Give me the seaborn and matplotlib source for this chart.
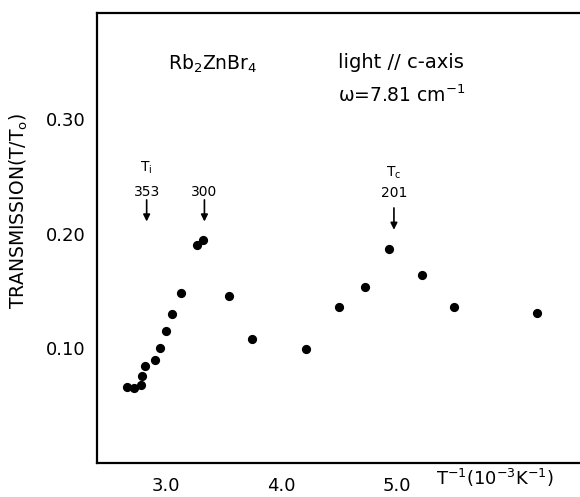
import matplotlib
matplotlib.use("Agg")
import matplotlib.pyplot as plt
import seaborn as sns
import pandas as pd

inv_T = [2.659, 2.725, 2.783, 2.794, 2.815, 2.905, 2.948, 3.000, 3.055, 3.130,
         3.271, 3.323, 3.549, 3.745, 4.213, 4.499, 4.722, 4.932, 5.216, 5.493, 6.213]
transmission = [0.0662, 0.0656, 0.0682, 0.0758, 0.0844, 0.0900, 0.1000, 0.1152, 0.1302, 0.1484,
                0.1900, 0.1946, 0.1453, 0.1078, 0.0997, 0.1358, 0.1537, 0.1866, 0.1637, 0.1358, 0.1312]

x_ticks = [3.0, 4.0, 5.0, 6.0]
x_tick_labels = ["3.0", "4.0", "5.0", ""]
y_ticks = [0.10, 0.20, 0.30]
y_tick_labels = ["0.10", "0.20", "0.30"]

markers_T = [353, 300, 201]
marker_names = ["T$_\\mathrm{i}$", "", "T$_\\mathrm{c}$"]

df = pd.DataFrame({"x": inv_T, "y": transmission})

sns.set_style("white")
plt.rcParams["font.family"] = ["DejaVu Sans"]
plt.rcParams["mathtext.fontset"] = "dejavusans"

fig = plt.figure(figsize=(5.8, 4.97), dpi=100)
ax = fig.add_axes([0.1667, 0.0678, 0.8333, 0.906])

sns.scatterplot(data=df, x="x", y="y", ax=ax, color="black", s=44,
                edgecolor="black", linewidth=0, legend=False)

ax.set_xlim(2.40, 6.587)
ax.set_ylim(0.0, 0.392)

for side in ["left", "bottom", "top"]:
    ax.spines[side].set_visible(True)
    ax.spines[side].set_color("black")
    ax.spines[side].set_linewidth(1.6)
ax.spines["right"].set_visible(False)

ax.set_xticks(x_ticks)
ax.set_xticklabels(x_tick_labels)
ax.set_yticks(y_ticks)
ax.set_yticklabels(y_tick_labels)
ax.tick_params(axis="both", direction="in", length=7, width=1.4, color="black",
               labelsize=13, labelcolor="black", pad=8)
ax.tick_params(axis="x", pad=10)
ax.tick_params(top=False, right=False)

ax.set_xlabel("")
ax.set_ylabel("TRANSMISSION(T/T$_\\mathrm{o}$)", fontsize=13.5, color="black")
ax.yaxis.set_label_coords(-0.137, 0.56)

fig.text(0.853, 0.024, "T$^{-1}$(10$^{-3}$K$^{-1}$)", fontsize=13, ha="center",
         va="baseline", color="black")

# annotations
tx = 3.0 + (168 - 166) / 115.4
ax.text(tx, 0.3475, "Rb$_2$ZnBr$_4$", fontsize=13.5, ha="left", va="center", color="black")
lx = 3.0 + (338 - 166) / 115.4
ax.text(lx, 0.3485, "light // c-axis", fontsize=14, ha="left", va="center", color="black")
ax.text(lx, 0.3205, "ω=7.81 cm$^{-1}$", fontsize=13.5, ha="left", va="center", color="black")

for T, name in zip(markers_T, marker_names):
    xv = 1000.0 / T
    if T == 201:
        top, tip, num_y, name_y = 0.2223, 0.2033, 0.2353, 0.2526
    else:
        top, tip, num_y, name_y = 0.2293, 0.2105, 0.2365, 0.2570
    ax.annotate("", xy=(xv, tip), xytext=(xv, top),
                arrowprops=dict(arrowstyle="-|>", color="black", lw=1.2,
                                mutation_scale=10, shrinkA=0, shrinkB=0))
    ax.text(xv, num_y, str(T), fontsize=10, ha="center", va="center", color="black")
    if name:
        ax.text(xv, name_y, name, fontsize=10, ha="center", va="center", color="black")

fig.savefig("out.png", dpi=100)
